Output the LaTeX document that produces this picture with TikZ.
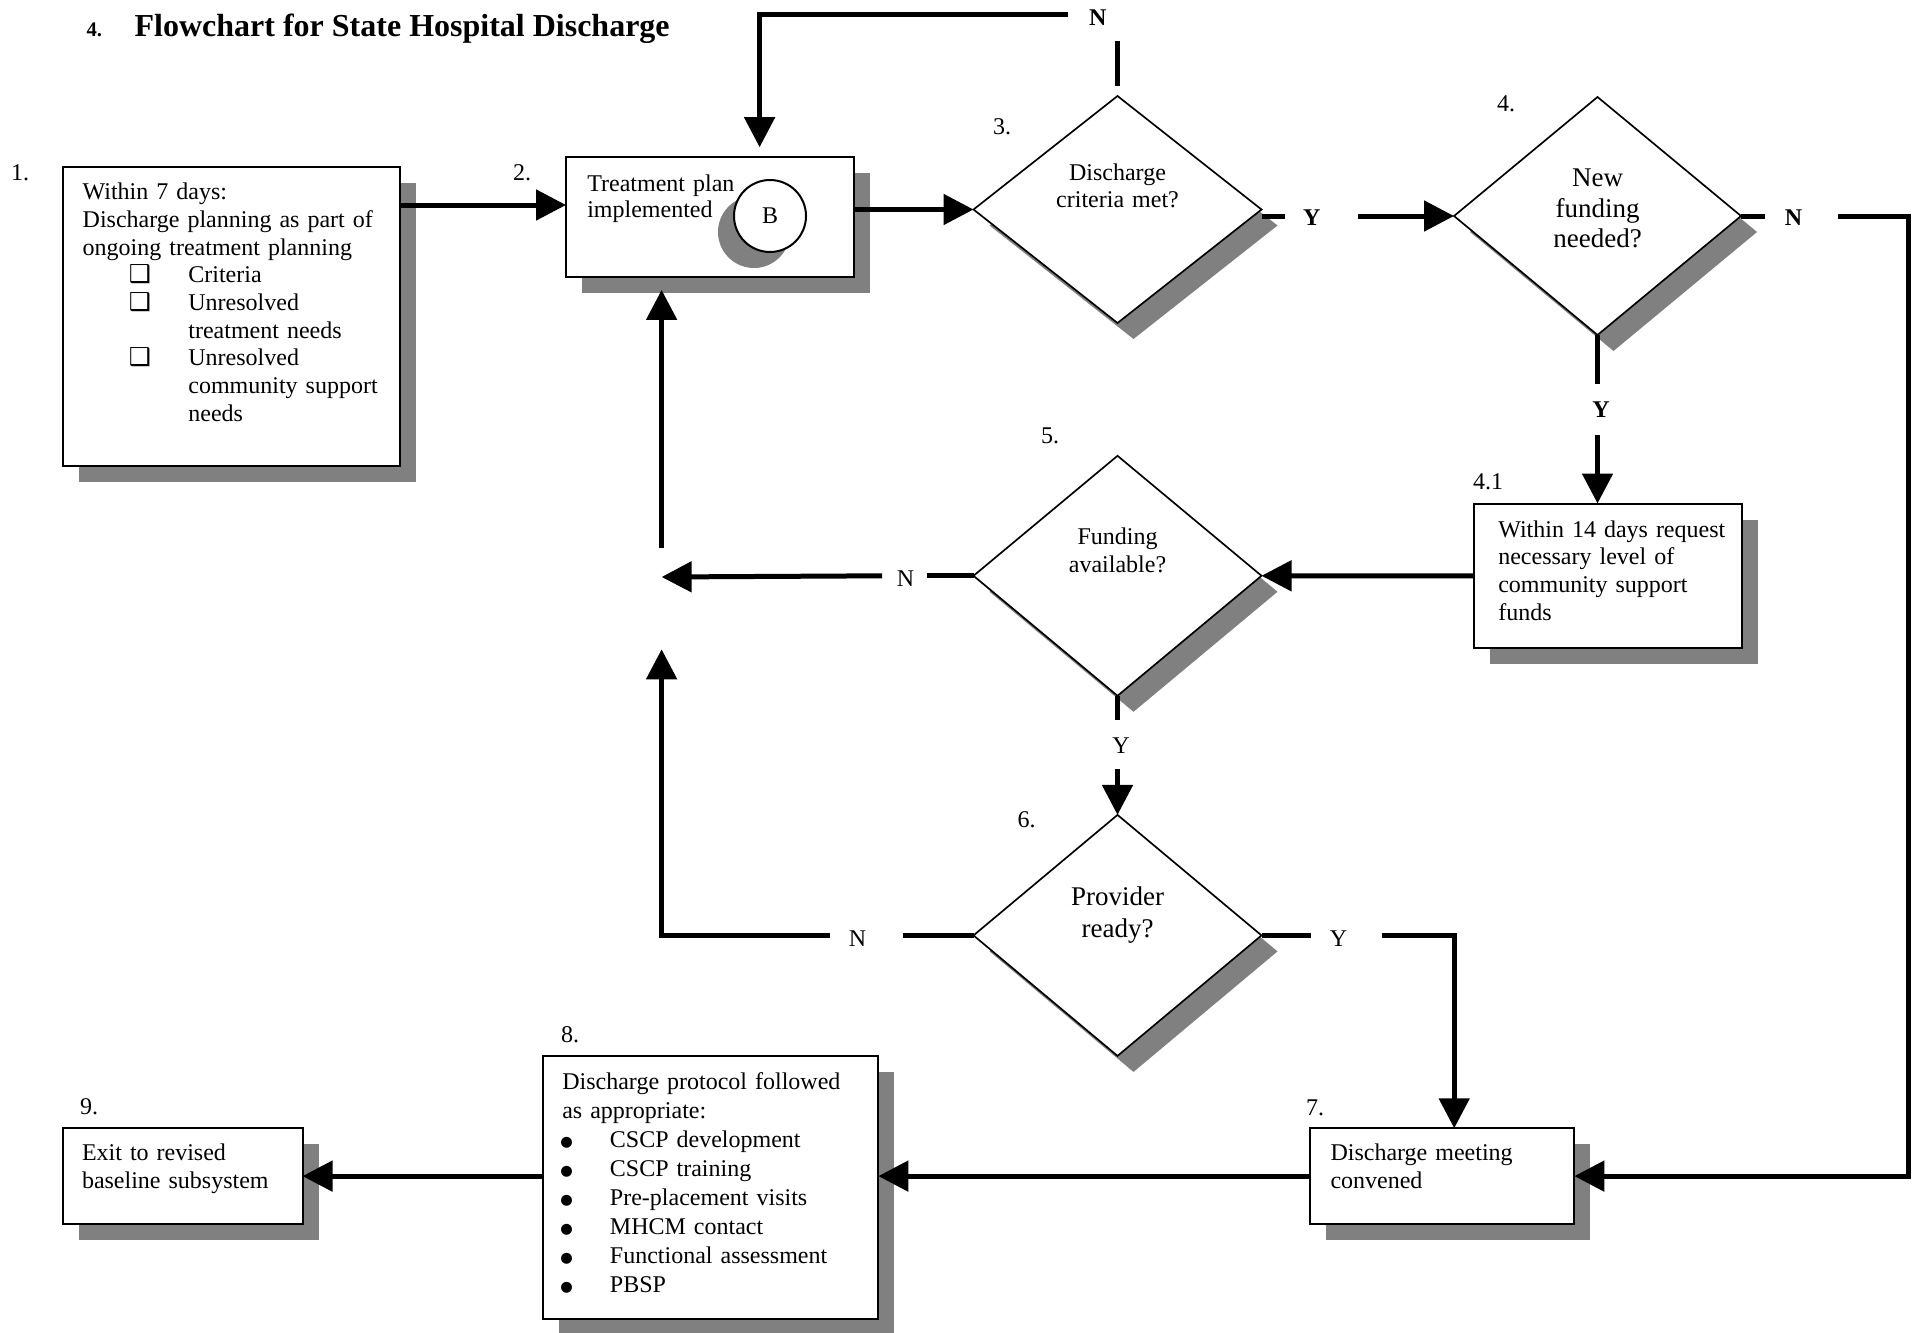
\documentclass[tikz,border=0pt]{standalone}
\usepackage{fontspec}
\setmainfont{Liberation Serif}
\newfontfamily\djv{DejaVu Sans}
\usetikzlibrary{shapes.geometric,arrows.meta,shadows}
\newcommand\fA{\fontsize{7.2pt}{8.3pt}\selectfont}
\newcommand\fB{\fontsize{7.2pt}{8.7pt}\selectfont}
\newcommand\cbx{\makebox[0pt]{\djv\fontsize{7.4pt}{8pt}\selectfont ❑}}
\newcommand\cbitem[1]{\hspace*{17.2pt}\cbx\hspace*{14.5pt}#1}
\newcommand\cbcont[1]{\hspace*{31.7pt}#1}
\newcommand\blt{\makebox[0pt]{\raisebox{0.5pt}{\djv\fontsize{4.3pt}{5pt}\selectfont ●}}}
\newcommand\blitem[1]{\hspace*{1.3pt}\blt\hspace*{13.0pt}#1}
\tikzset{
  shd/.style={drop shadow={shadow xshift=4.8pt,shadow yshift=-4.8pt,opacity=1,fill=black!50}},
  boxsty/.style={draw,line width=0.6pt,fill=white,inner sep=0pt,outer sep=0pt,shd},
  dmdsty/.style={diamond,draw,line width=0.5pt,fill=white,inner sep=0pt,outer sep=0pt,shd,minimum width=86.4pt},
  conn/.style={line width=1.5pt},
  arr/.style={conn,-{Triangle[length=9pt,width=9pt]}},
  txt/.style={anchor=base west,inner sep=0pt,outer sep=0pt,align=left,text width=#1,font=\fA},
  ctxt/.style={anchor=base,inner sep=0pt,outer sep=0pt,align=center,text width=70pt},
  lbl/.style={anchor=base,inner sep=0pt,font=\fA},
  lblb/.style={anchor=base,inner sep=0pt,font=\fA\bfseries},
}
\begin{document}
\begin{tikzpicture}[x=0.3pt,y=-0.3pt]
\useasboundingbox (0,0) rectangle (1921,1332);
% title
\node[anchor=base west,inner sep=0pt,font=\fontsize{6.2pt}{7pt}\selectfont\bfseries] (tnum) at (86,36.7) {4.};
\node[anchor=base west,inner sep=0pt,font=\fontsize{9.6pt}{11pt}\selectfont\bfseries] (title) at (134,36.7) {Flowchart for State Hospital Discharge};
% boxes and diamonds
\node[boxsty,minimum width=101.1pt,minimum height=89.7pt] (b1) at (231,316) {};
\node[boxsty,minimum width=86.4pt,minimum height=36pt] (b2) at (710,216.9) {};
\node[draw,circle,line width=0.6pt,fill=white,inner sep=0pt,minimum size=21.6pt,font=\fA,
      drop shadow={shadow xshift=-4.8pt,shadow yshift=-4.8pt,opacity=1,fill=black!50}] (cb) at (770,216) {B};
\node[dmdsty,minimum height=68.1pt] (d3) at (1117.5,209.5) {};
\node[dmdsty,minimum width=86.1pt,minimum height=71.4pt] (d4) at (1597.5,216) {};
\node[boxsty,minimum width=80.4pt,minimum height=43.35pt] (b41) at (1608,575.75) {};
\node[dmdsty,minimum height=72pt] (d5) at (1117.5,575.8) {};
\node[dmdsty,minimum height=72.3pt] (d6) at (1117.5,935.4) {};
\node[boxsty,minimum width=79.4pt,minimum height=28.7pt] (b7) at (1442,1176.1) {};
\node[boxsty,minimum width=100.7pt,minimum height=79pt] (b8) at (710.5,1187.7) {};
\node[boxsty,minimum width=72pt,minimum height=28.7pt] (b9) at (182.5,1176.1) {};
% box texts
\node[txt=95pt] (t1) at (82.7,199.7) {Within 7 days:\\Discharge planning as part of\\ongoing treatment planning\\\cbitem{Criteria}\\\cbitem{Unresolved}\\\cbcont{treatment needs}\\\cbitem{Unresolved}\\\cbcont{community support}\\\cbcont{needs}};
\node[txt=60pt,font=\fontsize{7.2pt}{8pt}\selectfont] (t2) at (587.3,191.3) {Treatment plan\\implemented};
\node[txt=76pt] (t41) at (1498.3,537) {Within 14 days request\\necessary level of\\community support\\funds};
\node[txt=74pt] (t7) at (1330.5,1160.8) {Discharge meeting\\convened};
\node[txt=95pt,font=\fB] (t8) at (562.3,1089.7) {Discharge protocol followed\\as appropriate:\\\blitem{CSCP development}\\\blitem{CSCP training}\\\blitem{Pre-placement visits}\\\blitem{MHCM contact}\\\blitem{Functional assessment}\\\blitem{PBSP}};
\node[txt=70pt] (t9) at (82,1160.8) {Exit to revised\\baseline subsystem};
% diamond texts
\node[ctxt,font=\fontsize{7.2pt}{8pt}\selectfont] (q3) at (1117.5,180.5) {Discharge\\criteria met?};
\node[ctxt,font=\fontsize{8.1pt}{9.2pt}\selectfont] (q4) at (1597.5,186.6) {New\\funding\\needed?};
\node[ctxt,font=\fontsize{7.2pt}{8.46pt}\selectfont] (q5) at (1117.5,544.6) {Funding\\available?};
\node[ctxt,font=\fontsize{8.1pt}{9.5pt}\selectfont] (q6) at (1117.5,905.8) {Provider\\ready?};
% step numbers
\node[lbl] (l1) at (20,181) {1.};
\node[lbl] (l2) at (522,181) {2.};
\node[lbl] (l3) at (1002,134.5) {3.};
\node[lbl] (l4) at (1506,112) {4.};
\node[lbl] (l41) at (1488,489.5) {4.1};
\node[lbl] (l5) at (1050,443) {5.};
\node[lbl] (l6) at (1026.6,827) {6.};
\node[lbl] (l7) at (1315,1115) {7.};
\node[lbl] (l8) at (570,1042) {8.};
\node[lbl] (l9) at (89,1114) {9.};
% Y / N labels
\node[lblb] (n3) at (1097.7,25.5) {N};
\node[lblb] (y3) at (1311.7,225.5) {Y};
\node[lblb] (n4) at (1793.6,226) {N};
\node[lblb] (y4) at (1601,417) {Y};
\node[lbl] (n5) at (905.6,586) {N};
\node[lbl] (y5) at (1121,753) {Y};
\node[lbl] (n6) at (857.6,946) {N};
\node[lbl] (y6) at (1338.5,946) {Y};
% free ends
\coordinate (r12) at (0,205);
\coordinate (n3a) at (1117.5,86.4);
\coordinate (n3b) at (1117.5,40.8);
\coordinate (n3c) at (1068.3,14.7);
\coordinate (n3x) at (759.6,14.7);
\coordinate (y3a) at (1285,216);
\coordinate (y3b) at (1358,216);
\coordinate (n4a) at (1765,216);
\coordinate (n4b) at (1837.7,216);
\coordinate (n4c) at (1908.7,216);
\coordinate (y4a) at (1597.5,383.5);
\coordinate (y4b) at (1597.5,435);
\coordinate (n5a) at (927.4,575.8);
\coordinate (n5b) at (882,575.8);
\coordinate (n5c) at (661.6,577);
\coordinate (up1) at (661.6,547.6);
\coordinate (y5a) at (1117.5,720.4);
\coordinate (y5b) at (1117.5,769.4);
\coordinate (n6a) at (903,935.4);
\coordinate (n6b) at (829.5,935.4);
\coordinate (up2) at (661.6,649.3);
\coordinate (y6a) at (1310.9,935.4);
\coordinate (y6b) at (1382,935.4);
\coordinate (y6x) at (1454.2,935.4);
% connectors
\draw[arr] (b1.east |- r12) -- (b2.west |- r12);
\draw[arr] (b2.east |- d3.west) -- (d3.west);
\draw[conn] (n3a) -- (n3b);
\draw[arr,shorten >=2.9pt] (n3c) -- (n3x) -- (b2.north -| n3x);
\draw[conn] (d3.east |- d4.west) -- (y3a);
\draw[arr] (y3b) -- (d4.west);
\draw[conn] (d4.east) -- (n4a);
\draw[arr] (n4b) -- (n4c) |- (b7.east);
\draw[conn] (d4.south) -- (y4a);
\draw[arr] (y4b) -- (b41.north -| y4b);
\draw[arr] (b41.west) -- (d5.east);
\draw[conn] (d5.west) -- (n5a);
\draw[arr] (n5b) -- (n5c);
\draw[arr,shorten >=3.9pt] (up1) -- (b2.south -| up1);
\draw[conn] (d5.south) -- (y5a);
\draw[arr] (y5b) -- (d6.north);
\draw[conn] (d6.west) -- (n6a);
\draw[arr] (n6b) -| (up2);
\draw[conn] (d6.east) -- (y6a);
\draw[arr] (y6b) -| (b7.north -| y6x);
\draw[arr] (b7.west) -- (b7.west -| b8.east);
\draw[arr] (b8.west |- b9.east) -- (b9.east);
\end{tikzpicture}
\end{document}
